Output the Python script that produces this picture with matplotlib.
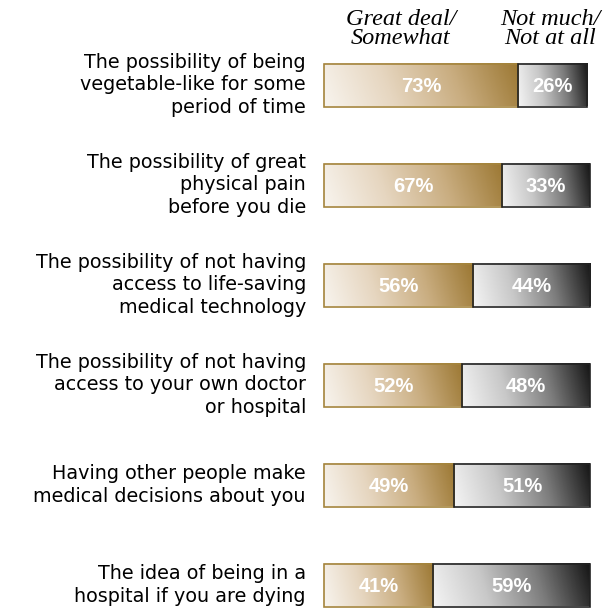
import numpy as np
import matplotlib
matplotlib.use("Agg")
import matplotlib.pyplot as plt
from matplotlib.colors import LinearSegmentedColormap
from matplotlib.patches import Rectangle

# concern items, top to bottom
items = [
    "The possibility of being\nvegetable-like for some\nperiod of time",
    "The possibility of great\nphysical pain\nbefore you die",
    "The possibility of not having\naccess to life-saving\nmedical technology",
    "The possibility of not having\naccess to your own doctor\nor hospital",
    "Having other people make\nmedical decisions about you",
    "The idea of being in a\nhospital if you are dying",
]
great_deal = [73, 67, 56, 52, 49, 41]
not_much = [26, 33, 44, 48, 51, 59]
headers = ["Great deal/\nSomewhat", "Not much/\nNot at all"]

gold = LinearSegmentedColormap.from_list("gold", ["#f8f4ee", "#e6d6c0", "#c9ad80", "#9c7833"])
grey = LinearSegmentedColormap.from_list("grey", ["#f4f4f4", "#c8c8c8", "#7c7c7c", "#161616"])

fig = plt.figure(figsize=(6.05, 6.11), dpi=100)
ax = fig.add_axes([324 / 605, 0, 266 / 605, 551 / 611])
ax.set_xlim(0, 100)
ax.set_ylim((611 - 85) / 100, (60 - 85) / 100)
ax.axis("off")

# shading for a bar: mostly left-to-right with a little tilt
gx, gy = np.meshgrid(np.linspace(0, 1, 200), np.linspace(0, 1, 20))
shade = np.clip(gx * 0.92 + (1 - gy) * 0.08, 0, 1)

h = 0.43


def draw_bar(x0, width, y, cmap, edge):
    top, bot = y - h / 2, y + h / 2
    ax.imshow(shade, cmap=cmap, extent=(x0, x0 + width, bot, top),
              aspect="auto", interpolation="bilinear", zorder=1, clip_on=False)
    ax.add_patch(Rectangle((x0, top), width, h, fill=False, ec=edge, lw=1.2,
                           zorder=2, clip_on=False))
    ax.text(x0 + width / 2, y + 0.01, f"{width}%", color="white", fontsize=14.5,
            fontweight="bold", family="Liberation Sans", ha="center", va="center", zorder=3)


for i, (label, a, b) in enumerate(zip(items, great_deal, not_much)):
    draw_bar(0, a, i, gold, "#a4843c")
    draw_bar(a, b, i, grey, "#222222")
    ax.annotate(label, xy=(0, i), xytext=(-13, 0), textcoords="offset points",
                ha="right", va="center", multialignment="right", fontsize=13.8,
                family="DejaVu Sans", color="#000000", linespacing=1.25,
                annotation_clip=False)

# column headers
fig.text(401 / 605, 1 - 29 / 611, headers[0], ha="center", va="center", fontsize=17.5,
         style="italic", family="Liberation Serif", linespacing=0.92)
fig.text(550 / 605, 1 - 29 / 611, headers[1], ha="center", va="center", fontsize=17.5,
         style="italic", family="Liberation Serif", linespacing=0.92)

fig.savefig("out.png", dpi=100)
